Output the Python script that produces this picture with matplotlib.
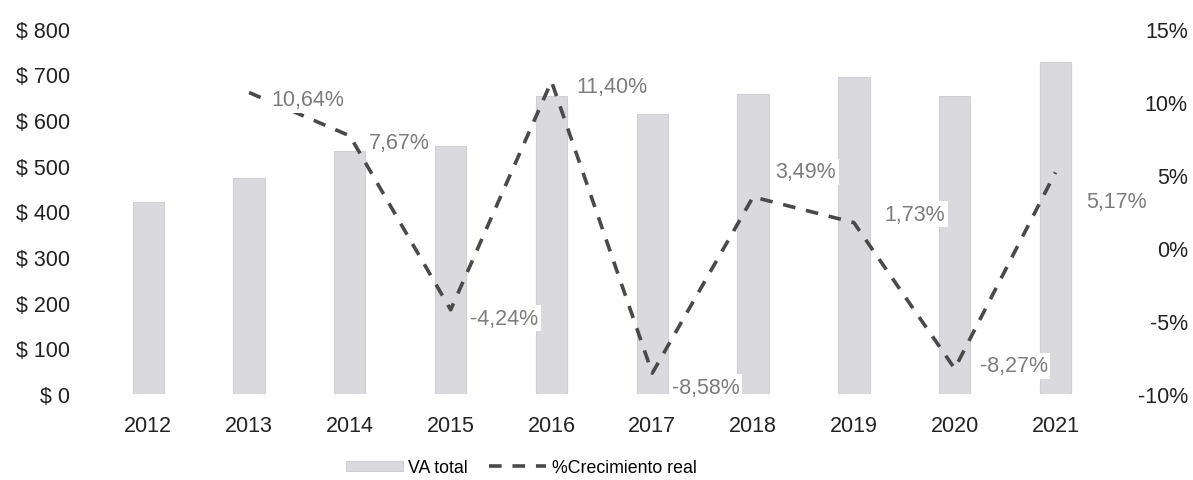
import matplotlib.pyplot as plt
import matplotlib.ticker as mticker
import numpy as np

plt.rcParams['font.family'] = ['Liberation Sans', 'DejaVu Sans']

#----------------------------------------------------------------------------------------#
# data

years = ['2012', '2013', '2014', '2015', '2016', '2017', '2018', '2019', '2020', '2021']
va_total = [420, 473, 533, 543, 653, 614, 657, 695, 653, 728]

growth_years = ['2013', '2014', '2015', '2016', '2017', '2018', '2019', '2020', '2021']
growth = [10.64, 7.67, -4.24, 11.40, -8.58, 3.49, 1.73, -8.27, 5.17]
growth_labels = ['10,64%', '7,67%', '-4,24%', '11,40%', '-8,58%', '3,49%', '1,73%', '-8,27%', '5,17%']

# label offsets in points (dx, dy)
label_offsets = [(16, -5), (14, -5), (14, -6), (18, -4), (14, -10), (16, 18), (22, 6), (18, 2), (22, -21)]

#----------------------------------------------------------------------------------------#

fig = plt.figure(figsize=(11.93, 4.81), dpi=100)
ax = fig.add_axes([0.082, 0.179, 0.845, 0.759])

x = np.arange(len(years))
ax.bar(x, va_total, width=0.31, color='#dadade', edgecolor='#d0d0d4', linewidth=0.8, label='VA total')
ax.set_ylim(0, 800)
ax.set_xlim(-0.5, len(years) - 0.5)
ax.set_xticks(x)
ax.set_xticklabels(years, fontsize=15.5, color='#222222')
ax.yaxis.set_major_locator(mticker.MultipleLocator(100))
ax.yaxis.set_major_formatter(mticker.FuncFormatter(lambda v, p: '$ %d' % v))
ax.tick_params(axis='y', labelsize=15.5, length=0, pad=20, colors='#222222')
ax.tick_params(axis='x', length=0, pad=15)
for s in ax.spines.values():
    s.set_visible(False)

ax2 = ax.twinx()
gx = [years.index(g) for g in growth_years]
ax2.plot(gx, growth, color='#4a4a4a', linestyle=(0, (3.5, 3)), linewidth=2.6, label='%Crecimiento real')
ax2.set_ylim(-10, 15)
ax2.set_yticks([-10, -5, 0, 5, 10, 15])
ax2.set_yticklabels(['-10%', '-5%', '0%', '5%', '10%', '15%'], ha='right')
ax2.tick_params(axis='y', labelsize=15.5, length=0, pad=59, colors='#222222')
for s in ax2.spines.values():
    s.set_visible(False)

for xi, yi, lab, off in zip(gx, growth, growth_labels, label_offsets):
    ax2.annotate(lab, (xi, yi), xytext=off, textcoords='offset points',
                 ha='left', va='center', fontsize=15.5, color='#7c7c7c',
                 bbox=dict(boxstyle='square,pad=0.12', facecolor='white', edgecolor='none'))

h1, l1 = ax.get_legend_handles_labels()
h2, l2 = ax2.get_legend_handles_labels()
ax.legend(h1 + h2, l1 + l2, loc='upper center', bbox_to_anchor=(0.42, -0.135), ncol=2,
          frameon=False, fontsize=12.8, handlelength=3.2, handleheight=0.5,
          columnspacing=1.2, handletextpad=0.3)

plt.savefig('out.png', dpi=100)
